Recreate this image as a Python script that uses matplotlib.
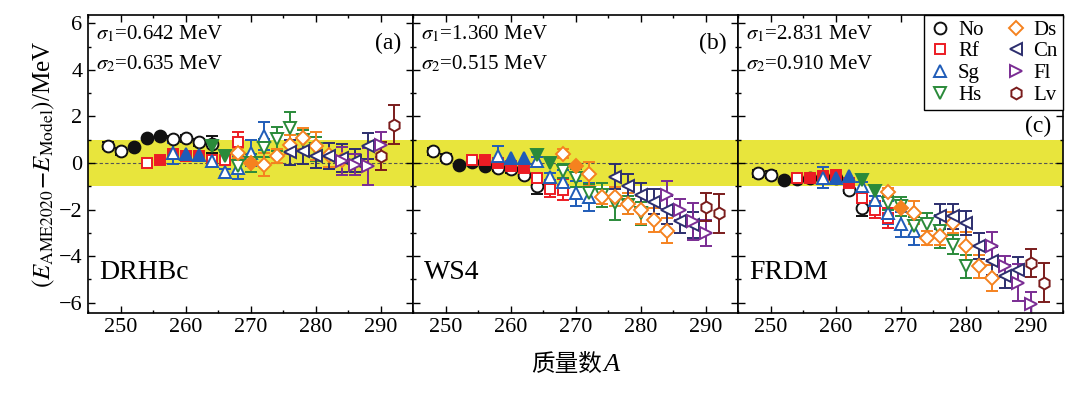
import matplotlib
matplotlib.use("Agg")
import matplotlib.pyplot as plt
from matplotlib.lines import Line2D
from matplotlib.ticker import MultipleLocator
from matplotlib.offsetbox import TextArea, HPacker, AnchoredOffsetbox

plt.rcParams['font.family'] = ['Liberation Serif', 'Noto Sans CJK SC']
plt.rcParams['mathtext.fontset'] = 'stix'

# ---------------- data ----------------
elements = ["No", "Rf", "Sg", "Hs", "Ds", "Cn", "Fl", "Lv"]
colors = {"No": "#111111", "Rf": "#ec1c24", "Sg": "#1f5cb8", "Hs": "#2a8a3a",
          "Ds": "#f5821f", "Cn": "#2c2e6e", "Fl": "#7a2c93", "Lv": "#7a1c1c"}
markers = {"No": "o", "Rf": "s", "Sg": "^", "Hs": "v",
           "Ds": "D", "Cn": "<", "Fl": ">", "Lv": "h"}

No_A = [248, 250, 252, 254, 256, 258, 260, 262, 264]
No_filled = [0, 0, 1, 1, 1, 0, 0, 0, 0]
No_err = [0.15, 0.15, 0, 0, 0, 0.12, 0.15, 0.15, 0.35]
No_a = [0.75, 0.50, 0.69, 1.07, 1.17, 1.03, 1.07, 0.90, 0.80]
No_b = [0.50, 0.22, -0.07, 0.05, -0.12, -0.22, -0.26, -0.50, -1.00]
No_c = [-0.43, -0.50, -0.71, -0.68, -0.64, -0.60, -0.65, -1.14, -1.93]

Rf_A = [254, 256, 258, 260, 262, 264, 266, 268]
Rf_filled = [0, 1, 1, 1, 1, 0, 0, 0]
Rf_err = [0.12, 0, 0, 0, 0, 0.2, 0.35, 0.45]
Rf_a = [0.00, 0.11, 0.40, 0.32, 0.32, 0.15, 0.11, 0.89]
Rf_b = [0.14, 0.14, 0.00, -0.14, -0.20, -0.65, -1.10, -1.15]
Rf_c = [-0.64, -0.64, -0.55, -0.50, -0.86, -1.50, -2.00, -2.36]

Sg_A = [258, 260, 262, 264, 266, 268, 270, 272]
Sg_filled = [0, 1, 1, 0, 0, 0, 0, 0]
Sg_err = [0.45, 0, 0, 0.2, 0.15, 0.5, 0.55, 0.6]
Sg_a = [0.43, 0.40, 0.36, 0.07, -0.40, -0.20, 0.43, 1.17]
Sg_b = [0.29, 0.22, 0.22, 0.07, -0.58, -0.80, -1.30, -1.45]
Sg_c = [-0.64, -0.64, -0.57, -1.00, -1.57, -2.14, -2.64, -2.90]

Hs_A = [264, 266, 268, 270, 272, 274, 276, 278, 280]
Hs_filled = [1, 1, 0, 0, 0, 0, 0, 0, 0]
Hs_err = [0, 0, 0.3, 0.4, 0.4, 0.5, 0.7, 0.4, 0.5]
Hs_a = [0.72, 0.29, -0.14, 0.00, 0.64, 1.03, 1.50, 1.00, 0.60]
Hs_b = [0.36, 0.00, -0.36, -0.65, -1.30, -1.37, -1.73, -1.80, -2.16]
Hs_c = [-0.71, -1.21, -1.71, -1.86, -2.71, -2.64, -2.93, -3.50, -4.43]

Ds_A = [268, 270, 272, 274, 276, 278, 280, 282, 284]
Ds_filled = [0, 1, 0, 0, 0, 0, 0, 0, 0]
Ds_err = [0.2, 0, 0.5, 0.3, 0.4, 0.45, 0.6, 0.5, 0.55]
Ds_a = [0.43, 0.00, -0.07, 0.32, 0.79, 1.07, 0.72, 0.35, 0.15]
Ds_b = [0.40, -0.14, -0.47, -1.44, -1.44, -1.75, -2.00, -2.45, -2.90]
Ds_c = [-1.26, -1.93, -2.14, -3.21, -3.14, -2.57, -3.57, -4.43, -4.93]

Cn_A = [276, 278, 280, 282, 284, 286, 288]
Cn_filled = [0, 0, 0, 0, 0, 0, 0]
Cn_err = [0.55, 0.55, 0.5, 0.55, 0.6, 0.5, 0.55]
Cn_a = [0.46, 0.50, 0.29, 0.29, 0.20, 0.10, 0.72]
Cn_b = [-0.58, -1.00, -1.37, -1.66, -2.00, -2.50, -2.65]
Cn_c = [-2.29, -2.29, -2.57, -3.57, -4.21, -4.86, -4.60]

Fl_A = [284, 286, 288, 290]
Fl_filled = [0, 0, 0, 0]
Fl_err = [0.6, 0.45, 0.8, 0.55]
Fl_a = [0.07, -0.07, -0.14, 0.79]
Fl_b = [-1.37, -2.00, -2.50, -3.00]
Fl_c = [-3.57, -4.43, -5.14, -6.07]

Lv_A = [290, 292]
Lv_filled = [0, 0]
Lv_err = [0.6, 0.85]
Lv_a = [0.29, 1.65]
Lv_b = [-1.87, -2.16]
Lv_c = [-4.29, -5.14]

data = {
    "No": (No_A, No_filled, No_err, [No_a, No_b, No_c]),
    "Rf": (Rf_A, Rf_filled, Rf_err, [Rf_a, Rf_b, Rf_c]),
    "Sg": (Sg_A, Sg_filled, Sg_err, [Sg_a, Sg_b, Sg_c]),
    "Hs": (Hs_A, Hs_filled, Hs_err, [Hs_a, Hs_b, Hs_c]),
    "Ds": (Ds_A, Ds_filled, Ds_err, [Ds_a, Ds_b, Ds_c]),
    "Cn": (Cn_A, Cn_filled, Cn_err, [Cn_a, Cn_b, Cn_c]),
    "Fl": (Fl_A, Fl_filled, Fl_err, [Fl_a, Fl_b, Fl_c]),
    "Lv": (Lv_A, Lv_filled, Lv_err, [Lv_a, Lv_b, Lv_c]),
}

models = ["DRHBc", "WS4", "FRDM"]
panel_tags = ["(a)", "(b)", "(c)"]
sigma1 = ["0.642", "1.360", "2.831"]
sigma2 = ["0.635", "0.515", "0.910"]
xticks = [250, 260, 270, 280, 290]
yticks = [-6, -4, -2, 0, 2, 4, 6]
ytick_labels = ["\u22126", "\u22124", "\u22122", "0", "2", "4", "6"]

# ---------------- figure ----------------
fig = plt.figure(figsize=(10.8, 3.93), dpi=100)
left, right, bottom, top = 0.0815, 0.9843, 0.2043, 0.9618
w = (right - left) / 3
axes = [fig.add_axes([left + i * w, bottom, w, top - bottom]) for i in range(3)]

msize = 8.5
mscale = {"D": 0.85, "h": 1.0, "s": 0.9}
for i, ax in enumerate(axes):
    ax.axhspan(-1, 1, color="#e8e53c", zorder=0, lw=0)
    ax.axhline(0, color="#555555", lw=0.8, ls=(0, (3, 2)), zorder=1)
    for el in elements:
        A, filled, err, vals = data[el]
        v = vals[i]
        c = colors[el]
        ms = msize * mscale.get(markers[el], 1.0)
        for a, f, e, y in zip(A, filled, err, v):
            if e > 0:
                ax.errorbar(a, y, yerr=e, fmt="none", ecolor=c, elinewidth=1.4,
                            capsize=4.2, capthick=1.4, zorder=2)
            ax.plot(a, y, marker=markers[el], ms=ms, mec=c,
                    mfc=c if f else "white", mew=1.4, ls="none", zorder=3)
    ax.set_xlim(245, 295)
    ax.set_ylim(-6.43, 6.36)
    ax.set_xticks(xticks)
    ax.set_yticks(yticks)
    ax.set_yticklabels(ytick_labels)
    ax.xaxis.set_minor_locator(MultipleLocator(5))
    ax.yaxis.set_minor_locator(MultipleLocator(1))
    ax.tick_params(which="both", direction="in", top=True, right=True,
                   labelsize=16, width=1.0)
    ax.tick_params(which="major", length=5, pad=4)
    ax.tick_params(which="minor", length=2.5)
    if i > 0:
        ax.tick_params(labelleft=False)
    for sp in ax.spines.values():
        sp.set_linewidth(1.2)
    ax.text(0.025, 0.97, r"$\sigma_1$=" + sigma1[i] + " MeV", transform=ax.transAxes,
            fontsize=15, ha="left", va="top")
    ax.text(0.025, 0.87, r"$\sigma_2$=" + sigma2[i] + " MeV", transform=ax.transAxes,
            fontsize=15, ha="left", va="top")
    ax.text(0.035, 0.135, models[i], transform=ax.transAxes, fontsize=20,
            ha="left", va="center")
    if i < 2:
        ax.text(0.965, 0.905, panel_tags[i], transform=ax.transAxes, fontsize=17,
                ha="right", va="center")
    else:
        ax.text(0.965, 0.625, panel_tags[i], transform=ax.transAxes, fontsize=17,
                ha="right", va="center")

axes[0].set_ylabel(r"$(E_{\mathrm{AME2020}}\!-\!E_{\mathrm{Model}})$/MeV", fontsize=18,
                   labelpad=1)

# x label: Chinese text + italic A
ta1 = TextArea("质量数", textprops=dict(family="Noto Sans CJK SC", fontsize=17))
ta2 = TextArea("A", textprops=dict(family="Liberation Serif", style="italic", fontsize=19))
pack = HPacker(children=[ta1, ta2], align="baseline", pad=0, sep=1)
ab = AnchoredOffsetbox(loc="upper center", child=pack, pad=0, frameon=False,
                       bbox_to_anchor=(0.5, -0.135), bbox_transform=axes[1].transAxes,
                       borderpad=0)
axes[1].add_artist(ab)

handles = [Line2D([], [], marker=markers[el], ms=msize * mscale.get(markers[el], 1.0),
                  mec=colors[el], mfc="white", mew=1.4, ls="none") for el in elements]
leg = axes[2].legend(handles, elements, ncol=2, loc="upper right", fontsize=15,
                     frameon=True, fancybox=False, edgecolor="black", framealpha=1,
                     borderaxespad=0, handletextpad=0.3, columnspacing=1.0,
                     labelspacing=0.1, borderpad=0.25, handlelength=1.1)
leg.get_frame().set_linewidth(1.0)

fig.savefig("out.png", dpi=100)
